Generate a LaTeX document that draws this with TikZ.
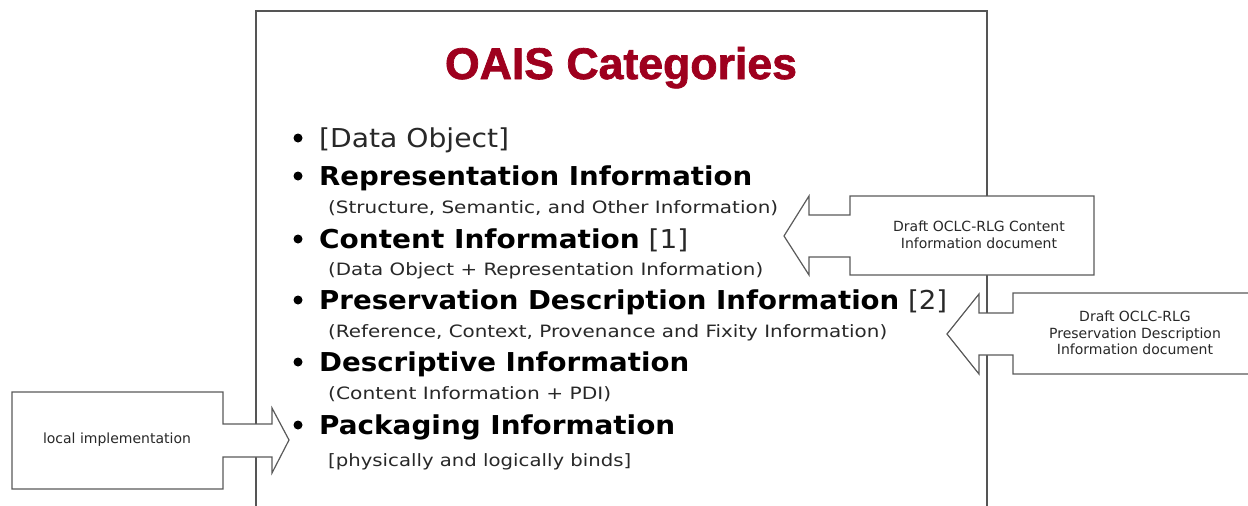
\documentclass[tikz,border=0pt]{standalone}
\usepackage{fontspec}
\setmainfont{DejaVu Sans}
\newfontfamily\titlefont{Liberation Sans}[BoldFeatures={FakeBold=1.6}]
\usepackage{graphicx}
\newcommand\fitto[2]{\resizebox{#1}{\height}{#2}}
\definecolor{oaisred}{RGB}{158,0,30}
\definecolor{framegray}{RGB}{85,85,85}
\definecolor{arrowgray}{RGB}{90,90,90}
\definecolor{txtgray}{RGB}{40,40,40}
\tikzset{
  frameline/.style={draw=framegray, line width=1.6pt},
  blockarrow/.style={draw=arrowgray, fill=white, line width=1.2pt, line join=miter},
  bigitem/.style={anchor=base west, inner sep=0pt, font=\fontsize{26}{30}\selectfont, text=black},
  subitem/.style={anchor=base west, inner sep=0pt, font=\fontsize{17}{20}\selectfont, text=txtgray},
  bulletdot/.style={circle, fill=black, inner sep=0pt, minimum size=9pt},
  arrowtext/.style={align=center, inner sep=0pt, font=\fontsize{14}{16.5}\selectfont, text=txtgray},
}
\begin{document}
\begin{tikzpicture}[x=1pt,y=-1pt]
\useasboundingbox (0,0) rectangle (1248,506);
\clip (0,0) rectangle (1248,506);
\fill[white] (0,0) rectangle (1248,506);

% frame (open at the bottom)
\draw[frameline] (256,510) -- (256,11) -- (987,11) -- (987,510);

% title
\node[anchor=base, inner sep=0pt, text=oaisred] (title) at (621,79)
  {\resizebox{352pt}{1.08\height}{\titlefont\fontsize{41}{44}\selectfont\bfseries OAIS Categories}};

% list
\node[bulletdot] (b1) at (298,138) {};
\node[bigitem, text=txtgray] (dataobj) at (319,147) {\fitto{190pt}{[Data Object]}};

\node[bulletdot] (b2) at (298,176) {};
\node[bigitem] (repinfo) at (319,185) {\fitto{433pt}{\bfseries Representation Information}};
\node[subitem] (repsub) at (328,213) {\fitto{450pt}{(Structure, Semantic, and Other Information)}};

\node[bulletdot] (b3) at (298,239) {};
\node[bigitem] (coninfo) at (319,248) {\fitto{369pt}{\textbf{Content Information} \textcolor{txtgray}{[1]}}};
\node[subitem] (consub) at (328,275) {\fitto{435pt}{(Data Object + Representation Information)}};

\node[bulletdot] (b4) at (298,300) {};
\node[bigitem] (pdi) at (319,309) {\fitto{628pt}{\textbf{Preservation Description Information} \textcolor{txtgray}{[2]}}};
\node[subitem] (pdisub) at (328,337) {\fitto{559pt}{(Reference, Context, Provenance and Fixity Information)}};

\node[bulletdot] (b5) at (298,362) {};
\node[bigitem] (desc) at (319,371) {\fitto{370pt}{\bfseries Descriptive Information}};
\node[subitem] (descsub) at (328,399) {\fitto{283pt}{(Content Information + PDI)}};

\node[bulletdot] (b6) at (298,425) {};
\node[bigitem] (pack) at (319,434) {\fitto{356pt}{\bfseries Packaging Information}};
\node[subitem] (packsub) at (328,466) {\fitto{303pt}{[physically and logically binds]}};

% block arrows
\draw[blockarrow] (12,392) -- (223,392) -- (223,424) -- (272,424) -- (272,408) -- (289,440)
  -- (272,473) -- (272,457) -- (223,457) -- (223,489) -- (12,489) -- cycle;
\node[arrowtext] (local) at (117,440) {local implementation};

\draw[blockarrow] (1094,196) -- (850,196) -- (850,215) -- (809,215) -- (809,196) -- (784,236)
  -- (809,275) -- (809,257) -- (850,257) -- (850,275) -- (1094,275) -- cycle;
\node[arrowtext] (ciddoc) at (979,235) {Draft OCLC-RLG Content\\Information document};

\draw[blockarrow] (1260,293) -- (1013,293) -- (1013,313) -- (979,313) -- (979,294) -- (947,334)
  -- (979,374) -- (979,355) -- (1013,355) -- (1013,374) -- (1260,374) -- cycle;
\node[arrowtext] (pdidoc) at (1135,333) {Draft OCLC-RLG\\Preservation Description\\Information document};
\end{tikzpicture}
\end{document}
